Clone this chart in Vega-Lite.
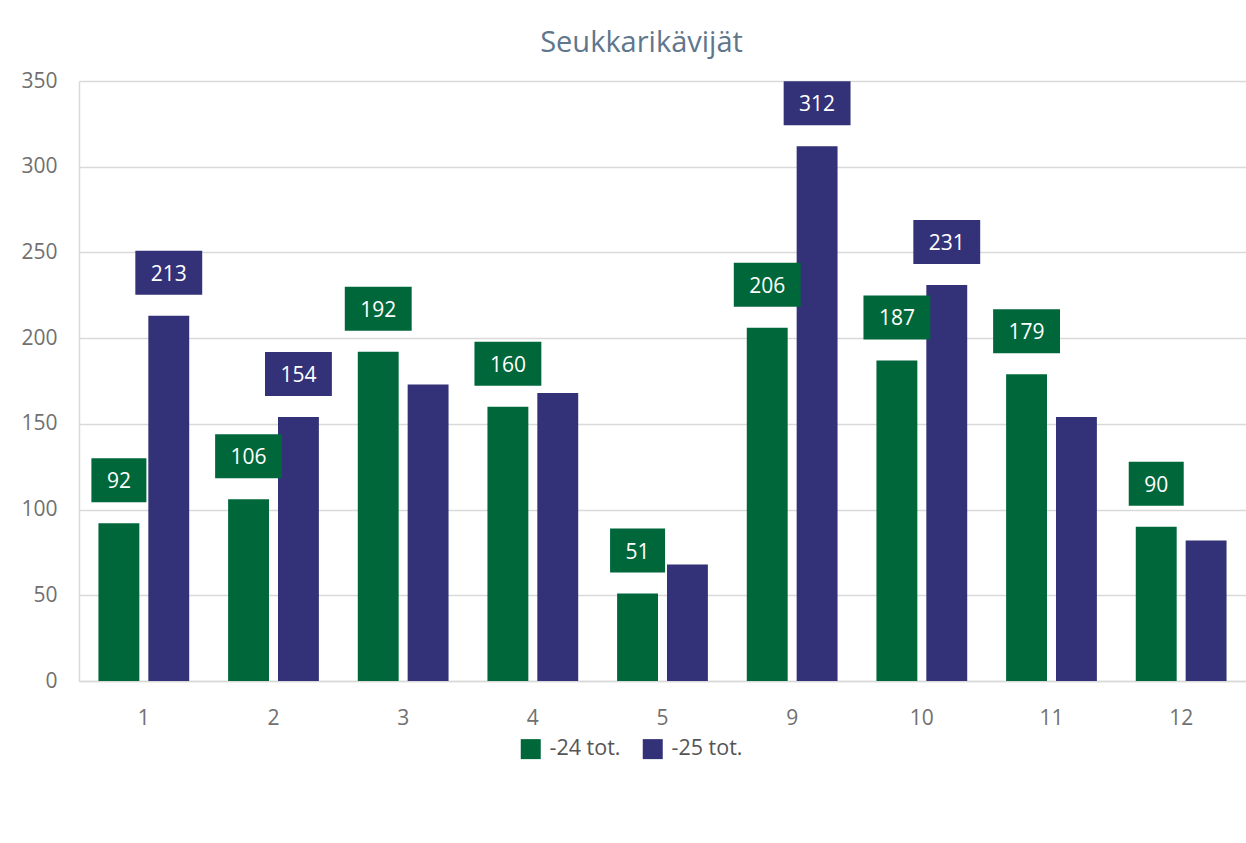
{
  "$schema": "https://vega.github.io/schema/vega-lite/v6.json",
  "width": 1167,
  "height": 600,
  "autosize": {"type": "none"},
  "padding": {"left": 79, "top": 81, "right": 0, "bottom": 162},
  "background": "white",
  "title": {
    "text": "Seukkarikävijät",
    "fontSize": 29,
    "font": "Open Sans",
    "fontWeight": "normal",
    "color": "#60768C",
    "anchor": "middle",
    "dx": -21,
    "offset": 12
  },
  "data": {
    "values": [
      {"month": 1, "series": "-24 tot.", "value": 92},
      {"month": 1, "series": "-25 tot.", "value": 213},
      {"month": 2, "series": "-24 tot.", "value": 106},
      {"month": 2, "series": "-25 tot.", "value": 154},
      {"month": 3, "series": "-24 tot.", "value": 192},
      {"month": 3, "series": "-25 tot.", "value": 173},
      {"month": 4, "series": "-24 tot.", "value": 160},
      {"month": 4, "series": "-25 tot.", "value": 168},
      {"month": 5, "series": "-24 tot.", "value": 51},
      {"month": 5, "series": "-25 tot.", "value": 68},
      {"month": 9, "series": "-24 tot.", "value": 206},
      {"month": 9, "series": "-25 tot.", "value": 312},
      {"month": 10, "series": "-24 tot.", "value": 187},
      {"month": 10, "series": "-25 tot.", "value": 231},
      {"month": 11, "series": "-24 tot.", "value": 179},
      {"month": 11, "series": "-25 tot.", "value": 154},
      {"month": 12, "series": "-24 tot.", "value": 90},
      {"month": 12, "series": "-25 tot.", "value": 82}
    ]
  },
  "encoding": {
    "x": {
      "field": "month",
      "type": "ordinal",
      "scale": {"paddingInner": 0.3, "paddingOuter": 0.15},
      "axis": {
        "title": null,
        "labelAngle": 0,
        "ticks": false,
        "domain": true,
        "domainColor": "#d9d9d9",
        "domainWidth": 1.5,
        "labelPadding": 26,
        "labelFontSize": 21,
        "labelFont": "Open Sans",
        "labelColor": "#707070",
        "grid": false
      }
    },
    "xOffset": {"field": "series", "type": "nominal", "scale": {"paddingInner": 0.18}},
    "y": {
      "field": "value",
      "type": "quantitative",
      "scale": {"domain": [0, 350]},
      "axis": {
        "title": null,
        "values": [0, 50, 100, 150, 200, 250, 300, 350],
        "ticks": false,
        "domain": true,
        "domainColor": "#d9d9d9",
        "domainWidth": 1.5,
        "gridColor": "#d9d9d9",
        "gridWidth": 1.5,
        "labelPadding": 22,
        "labelFontSize": 21,
        "labelFont": "Open Sans",
        "labelColor": "#707070"
      }
    },
    "color": {
      "field": "series",
      "type": "nominal",
      "scale": {"domain": ["-24 tot.", "-25 tot."], "range": ["#00673A", "#333177"]},
      "legend": {
        "title": null,
        "orient": "none",
        "direction": "horizontal",
        "legendX": 441,
        "legendY": 657,
        "symbolType": "square",
        "symbolSize": 400,
        "symbolStrokeWidth": 0,
        "symbolOpacity": 1,
        "labelFontSize": 21.5,
        "labelFont": "Open Sans",
        "labelColor": "#555555",
        "labelOffset": 8,
        "columnPadding": 21
      }
    }
  },
  "layer": [
    {"mark": {"type": "bar"}},
    {
      "transform": [
        {"joinaggregate": [{"op": "min", "field": "value", "as": "minv"}], "groupby": ["month"]},
        {"filter": "datum.series == '-24 tot.' || datum.value - datum.minv > 30"}
      ],
      "layer": [
        {
          "mark": {"type": "point", "filled": true, "opacity": 1, "strokeWidth": 0, "yOffset": -43, "size": 1936},
          "encoding": {
            "shape": {
              "condition": {"test": "datum.value >= 100", "value": "M-1.52,-1H1.52V1H-1.52Z"},
              "value": "M-1.25,-1H1.25V1H-1.25Z"
            },
            "color": {"field": "series", "type": "nominal", "legend": null}
          }
        },
        {
          "mark": {"type": "text", "yOffset": -41, "baseline": "middle", "align": "center", "fontSize": 21, "font": "Open Sans", "color": "white"},
          "encoding": {
            "text": {"field": "value", "type": "quantitative"},
            "color": {"value": "white"}
          }
        }
      ]
    }
  ],
  "config": {
    "view": {"stroke": null}
  }
}
